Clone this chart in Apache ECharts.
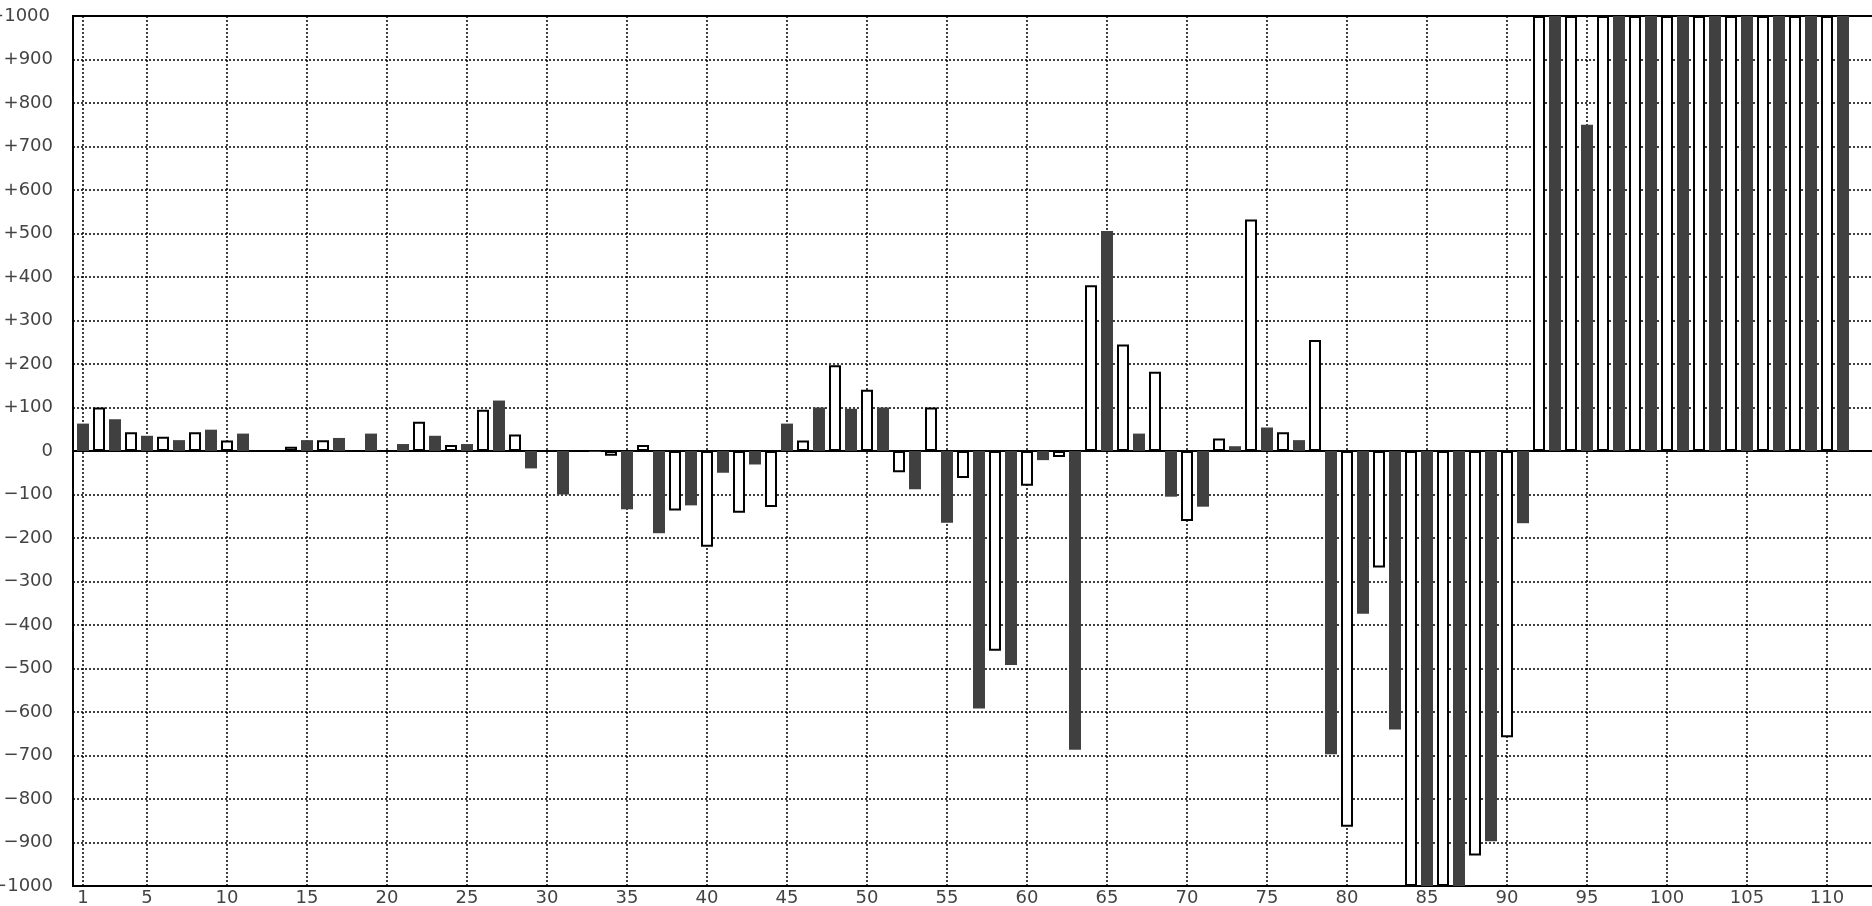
<!DOCTYPE html>
<html>
<head>
<meta charset="utf-8">
<script src="https://cdn.jsdelivr.net/npm/echarts@6/dist/echarts.min.js"></script>
<style>
  html, body { margin: 0; padding: 0; background: #fff; }
  #chart { width: 1872px; height: 906px; }
</style>
</head>
<body>
<div id="chart"></div>
<script>
// Category positions (bar index along the x axis)
const categories = [
  1, 2, 3, 4, 5, 6, 7, 8, 9, 10, 11, 12, 13, 14, 15, 16, 17, 18, 19, 20,
  21, 22, 23, 24, 25, 26, 27, 28, 29, 30, 31, 32, 33, 34, 35, 36, 37, 38, 39, 40,
  41, 42, 43, 44, 45, 46, 47, 48, 49, 50, 51, 52, 53, 54, 55, 56, 57, 58, 59, 60,
  61, 62, 63, 64, 65, 66, 67, 68, 69, 70, 71, 72, 73, 74, 75, 76, 77, 78, 79, 80,
  81, 82, 83, 84, 85, 86, 87, 88, 89, 90, 91, 92, 93, 94, 95, 96, 97, 98, 99, 100,
  101, 102, 103, 104, 105, 106, 107, 108, 109, 110, 111
];

// Bar values (odd positions drawn dark, even positions drawn white)
const values = [
  63, 100, 73, 43, 35, 33, 25, 43, 49, 24, 40, null, null, 10, 25, 25, 30, null, 40, null,
  16, 67, 35, 14, 16, 95, 116, 38, -40, null, -100, null, -2, -11, -134, 14, -189, -137, -125, -220,
  -50, -142, -31, -129, 63, 24, 100, 197, 97, 141, 100, -49, -88, 100, -165, -62, -592, -459, -492, -80,
  -21, -14, -687, 381, 506, 245, 40, 182, -105, -161, -128, 29, 11, 532, 54, 43, 25, 255, -697, -864,
  -374, -268, -640, -1000, -1000, -1000, -1000, -930, -897, -658, -166, 1000, 1000, 1000, 750, 1000, 1000, 1000, 1000, 1000,
  1000, 1000, 1000, 1000, 1000, 1000, 1000, 1000, 1000, 1000, 1000
];

// Tick labels
const xTickValues = [1, 5, 10, 15, 20, 25, 30, 35, 40, 45, 50, 55, 60, 65, 70, 75, 80, 85, 90, 95, 100, 105, 110];
const yMin = -1000, yMax = 1000, yStep = 100;

const DARK = '#404040';
const FONT = 'DejaVu Sans';
const FONT_SIZE = 18;
const TEXT = '#444';

const barData = categories.map((c, i) => {
  const v = values[i];
  const isDark = c % 2 === 1;
  return {
    value: [c, v],
    itemStyle: isDark
      ? { color: DARK, borderWidth: 0 }
      : { color: '#ffffff', borderColor: '#000000', borderWidth: 2 }
  };
});

const chart = echarts.init(document.getElementById('chart'), null, { renderer: 'canvas' });

const gridLine = { show: true, lineStyle: { color: '#000', width: 1.5, type: [2, 2] } };

chart.setOption({
  animation: false,
  backgroundColor: '#fff',
  grid: {
    left: 73, top: 16, width: 1808, height: 870,
    show: true, borderColor: '#000', borderWidth: 2, backgroundColor: 'transparent',
    containLabel: false, outerBoundsMode: 'none'
  },
  xAxis: {
    type: 'value',
    min: 0.375,
    max: 113.375,
    axisLine: { show: true, onZero: false, lineStyle: { color: '#000', width: 2 } },
    axisTick: { show: false, customValues: xTickValues },
    axisLabel: {
      show: true, customValues: xTickValues, margin: 3,
      color: TEXT, fontFamily: FONT, fontSize: FONT_SIZE
    },
    splitLine: gridLine
  },
  yAxis: {
    type: 'value',
    min: yMin, max: yMax, interval: yStep,
    axisLine: { show: true, lineStyle: { color: '#000', width: 2 } },
    axisTick: { show: false },
    axisLabel: {
      margin: 20, color: TEXT, fontFamily: FONT, fontSize: FONT_SIZE,
      formatter: v => {
        const s = v > 0 ? '+' + v : (v < 0 ? '\u2212' + Math.abs(v) : '0');
        return v === yMax ? '{t|' + s + '}' : s;
      },
      rich: {
        t: { color: TEXT, fontFamily: FONT, fontSize: FONT_SIZE, padding: [0, 3, 0, 0] }
      }
    },
    splitLine: gridLine
  },
  series: [{
    type: 'bar',
    barWidth: 12,
    data: barData,
    z: 2,
    markLine: {
      silent: true, z: 1, symbol: 'none',
      label: { show: false },
      lineStyle: { color: '#000', width: 2, type: 'solid' },
      data: [{ yAxis: 0 }]
    }
  }]
});
</script>
</body>
</html>
